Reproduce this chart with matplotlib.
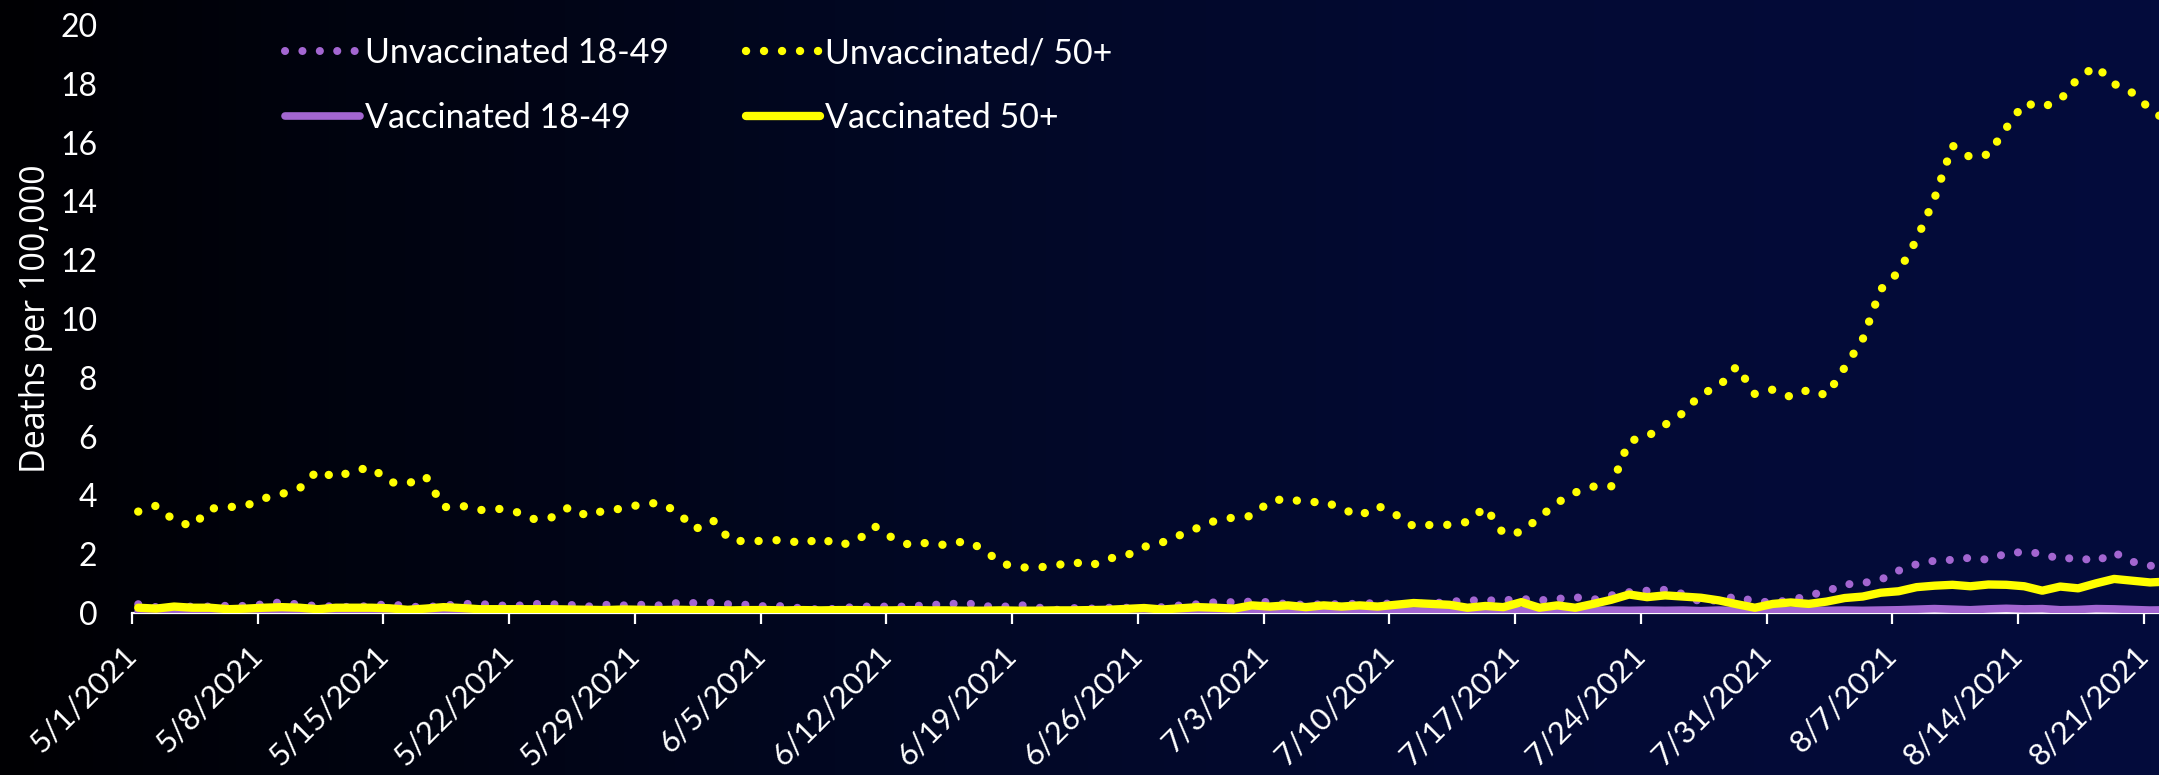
import numpy as np
import pandas as pd
import matplotlib
matplotlib.use("Agg")
import matplotlib.pyplot as plt
from matplotlib.colors import LinearSegmentedColormap

# daily categories 5/1/2021 .. 8/22/2021
dates = pd.date_range("2021-05-01", "2021-08-22", freq="D")
tick_labels = ["5/1/2021", "5/8/2021", "5/15/2021", "5/22/2021", "5/29/2021",
               "6/5/2021", "6/12/2021", "6/19/2021", "6/26/2021", "7/3/2021",
               "7/10/2021", "7/17/2021", "7/24/2021", "7/31/2021", "8/7/2021",
               "8/14/2021", "8/21/2021"]

unvax_50 = [3.45, 3.65, 3.15, 2.95, 3.55, 3.6, 3.65, 3.9, 4.05, 4.25,
            4.85, 4.6, 4.85, 4.95, 4.45, 4.4, 4.65, 3.6, 3.65, 3.5,
            3.55, 3.45, 3.2, 3.25, 3.6, 3.3, 3.5, 3.55, 3.7, 3.75,
            3.45, 2.85, 3.15, 2.45, 2.45, 2.45, 2.5, 2.35, 2.55, 2.3,
            2.45, 2.95, 2.55, 2.3, 2.4, 2.3, 2.45, 2.2, 1.7, 1.55,
            1.55, 1.6, 1.75, 1.6, 1.85, 1.95, 2.25, 2.4, 2.65, 2.9,
            3.15, 3.25, 3.3, 3.8, 3.9, 3.75, 3.8, 3.55, 3.3, 3.65,
            3.35, 2.95, 3.0, 3.0, 3.1, 3.6, 2.7, 2.75, 3.25, 3.75,
            4.1, 4.3, 4.3, 5.85, 6.0, 6.4, 6.8, 7.45, 7.7, 8.4,
            7.45, 7.6, 7.35, 7.6, 7.4, 8.35, 9.3, 11.0, 11.6, 12.7,
            14.1, 15.9, 15.5, 15.6, 16.5, 17.35, 17.2, 17.45, 18.2, 18.6,
            18.0, 17.7, 17.15, 16.7]

unvax_18 = [0.3, 0.2, 0.2, 0.22, 0.22, 0.25, 0.24, 0.3, 0.37, 0.28,
            0.24, 0.22, 0.2, 0.25, 0.31, 0.22, 0.2, 0.25, 0.31, 0.31,
            0.26, 0.24, 0.31, 0.3, 0.28, 0.22, 0.28, 0.26, 0.28, 0.26,
            0.34, 0.34, 0.35, 0.29, 0.28, 0.22, 0.24, 0.15, 0.12, 0.15,
            0.22, 0.22, 0.22, 0.22, 0.28, 0.29, 0.35, 0.24, 0.2, 0.28,
            0.2, 0.1, 0.17, 0.15, 0.18, 0.18, 0.15, 0.2, 0.26, 0.3,
            0.37, 0.37, 0.39, 0.37, 0.3, 0.28, 0.3, 0.3, 0.32, 0.34,
            0.3, 0.3, 0.33, 0.38, 0.43, 0.43, 0.43, 0.48, 0.43, 0.48,
            0.54, 0.45, 0.6, 0.71, 0.76, 0.79, 0.65, 0.37, 0.45, 0.56,
            0.39, 0.37, 0.43, 0.6, 0.74, 0.97, 1.02, 1.13, 1.44, 1.66,
            1.78, 1.81, 1.88, 1.81, 2.03, 2.08, 2.02, 1.83, 1.89, 1.75,
            2.06, 1.75, 1.61, 1.55]

vax_50 = [0.18, 0.15, 0.22, 0.18, 0.18, 0.13, 0.15, 0.18, 0.2, 0.18,
          0.13, 0.18, 0.18, 0.18, 0.16, 0.11, 0.15, 0.2, 0.17, 0.13,
          0.13, 0.13, 0.13, 0.13, 0.12, 0.11, 0.1, 0.12, 0.11, 0.1,
          0.11, 0.1, 0.1, 0.09, 0.1, 0.1, 0.09, 0.1, 0.09, 0.1,
          0.1, 0.09, 0.09, 0.1, 0.09, 0.09, 0.08, 0.08, 0.09, 0.08,
          0.08, 0.09, 0.09, 0.1, 0.11, 0.14, 0.17, 0.12, 0.16, 0.2,
          0.18, 0.15, 0.26, 0.22, 0.26, 0.2, 0.26, 0.22, 0.26, 0.22,
          0.28, 0.34, 0.31, 0.28, 0.18, 0.24, 0.2, 0.37, 0.18, 0.26,
          0.18, 0.31, 0.45, 0.63, 0.54, 0.6, 0.56, 0.52, 0.43, 0.3,
          0.18, 0.31, 0.36, 0.31, 0.39, 0.51, 0.56, 0.69, 0.74, 0.88,
          0.93, 0.96, 0.91, 0.97, 0.96, 0.91, 0.76, 0.9, 0.84, 1.01,
          1.16, 1.1, 1.04, 1.07]

vax_18 = [0.06, 0.08, 0.1, 0.08, 0.06, 0.05, 0.05, 0.06, 0.07, 0.05,
          0.05, 0.06, 0.05, 0.05, 0.06, 0.05, 0.05, 0.06, 0.05, 0.05,
          0.05, 0.06, 0.05, 0.05, 0.05, 0.06, 0.05, 0.05, 0.05, 0.05,
          0.05, 0.05, 0.05, 0.05, 0.05, 0.05, 0.04, 0.04, 0.04, 0.04,
          0.04, 0.04, 0.04, 0.04, 0.04, 0.04, 0.04, 0.04, 0.04, 0.04,
          0.04, 0.04, 0.04, 0.04, 0.05, 0.05, 0.05, 0.05, 0.05, 0.05,
          0.06, 0.05, 0.06, 0.07, 0.06, 0.07, 0.06, 0.07, 0.06, 0.07,
          0.08, 0.07, 0.08, 0.07, 0.08, 0.07, 0.08, 0.09, 0.08, 0.07,
          0.08, 0.09, 0.1, 0.09, 0.1, 0.09, 0.1, 0.08, 0.1, 0.08,
          0.06, 0.08, 0.09, 0.1, 0.09, 0.1, 0.09, 0.1, 0.11, 0.13,
          0.15, 0.13, 0.11, 0.14, 0.16, 0.14, 0.15, 0.11, 0.12, 0.15,
          0.14, 0.12, 0.1, 0.11]

YELLOW = "#ffff00"
PURPLE = "#a366d1"
TICK_FONT = "Lato"

x = np.arange(len(dates))
shift = -0.35  # ticks sit a bit left of the category points

fig = plt.figure(figsize=(21.59, 7.75), dpi=100)

# dark gradient background
bg = fig.add_axes([0, 0, 1, 1], zorder=-10)
cmap = LinearSegmentedColormap.from_list(
    "bg", [(0.0, (0/255, 0/255, 3/255)), (0.2, (1/255, 4/255, 18/255)),
           (0.45, (2/255, 8/255, 38/255)), (0.7, (3/255, 10/255, 52/255)),
           (1.0, (4/255, 12/255, 60/255))])
bg.imshow(np.linspace(0, 1, 512)[None, :], cmap=cmap, aspect="auto",
          extent=[0, 1, 0, 1])
bg.axis("off")

ax = fig.add_axes([0.0611, 0.209, 1 - 0.0611, 0.7587])
ax.set_facecolor("none")

dotted = (0, (0.01, 2.15))
l_v18, = ax.plot(x, vax_18, color=PURPLE, lw=5.5, solid_capstyle="round",
                 solid_joinstyle="round", label="Vaccinated 18-49", zorder=2)
l_u18, = ax.plot(x, unvax_18, color=PURPLE, lw=5.8, linestyle=dotted,
                 dash_capstyle="round", label="Unvaccinated 18-49", zorder=3)
l_u50, = ax.plot(x, unvax_50, color=YELLOW, lw=6, linestyle=dotted,
                 dash_capstyle="round", label="Unvaccinated/ 50+", zorder=4)
l_v50, = ax.plot(x, vax_50, color=YELLOW, lw=6, solid_capstyle="round",
                 solid_joinstyle="round", label="Vaccinated 50+", zorder=5)

ax.set_xlim(shift, 112.5)
ax.set_ylim(0, 20)
ax.set_yticks(np.arange(0, 21, 2))
ax.set_xticks(np.arange(0, len(tick_labels) * 7, 7) + shift)
ax.set_xticklabels(tick_labels, rotation=45, ha="right", va="center",
                   rotation_mode="anchor", family=TICK_FONT, fontsize=22.5,
                   color="white")
for lab in ax.get_yticklabels():
    lab.set_family(TICK_FONT)
    lab.set_fontsize(23)
    lab.set_color("white")

ax.tick_params(axis="x", direction="out", length=8, width=1.6, color="white",
               pad=19)
ax.tick_params(axis="y", length=0, pad=25)
for side in ["top", "right", "left"]:
    ax.spines[side].set_visible(False)
ax.spines["bottom"].set_color("white")
ax.spines["bottom"].set_linewidth(1.6)
ax.spines["bottom"].set_zorder(1)

fig.text(0.0165, 0.2090 + 0.7587 / 2, "Deaths per 100,000", rotation=90,
         ha="center", va="center", color="white", fontsize=24.5,
         family="Open Sans")

leg = ax.legend(handles=[l_u18, l_v18, l_u50, l_v50], ncol=2, frameon=False,
                loc="upper left", bbox_to_anchor=(0.132, 0.952),
                bbox_transform=fig.transFigure, borderaxespad=0, borderpad=0,
                handlelength=2.2, handletextpad=0.15, columnspacing=2.25,
                labelspacing=0.95, prop={"family": TICK_FONT, "size": 24.5})
for t in leg.get_texts():
    t.set_color("white")

fig.savefig("out.png", dpi=100)
